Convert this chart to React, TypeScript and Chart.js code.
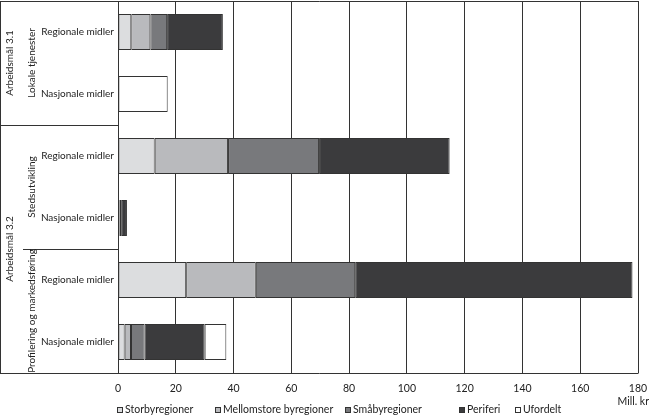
import React, { useEffect, useRef } from 'react';
import Chart from 'chart.js/auto';

// rows, top to bottom
const categories = ['Regionale midler', 'Nasjonale midler', 'Regionale midler', 'Nasjonale midler', 'Regionale midler', 'Nasjonale midler'];

const storby = [4.6, null, 12.7, 0.2, 23.6, 2.3];
const mellomstore = [6.6, null, 25.4, 0.3, 24.1, 2.2];
const smaaby = [5.8, null, 31.5, 0.6, 34.4, 4.7];
const periferi = [19.3, null, 45.2, 2.0, 96.0, 20.8];
const ufordelt = [null, 17.2, null, null, null, 7.5];

const seriesNames = ['Storbyregioner', 'Mellomstore byregioner', 'Småbyregioner', 'Periferi', 'Ufordelt'];
const seriesColors = ['#dcdddf', '#b9babd', '#78797c', '#3b3b3d', '#ffffff'];

const xTicks = [0, 20, 40, 60, 80, 100, 120, 140, 160, 180];

const LINE = '#333333';
const FONT = 'Lato, "Open Sans", sans-serif';

const decorPlugin = {
    id: 'decor',
    afterDraw(chart: any) {
        const { ctx, chartArea } = chart;
        const y = chart.scales.y;
        const px = (v: number) => Math.round(y.getPixelForValue(v)) + 0.5;
        const top = Math.round(chartArea.top) + 0.5;
        const bottom = Math.round(chartArea.bottom) + 0.5;
        const left = Math.round(chartArea.left) + 0.5;
        const right = Math.round(chartArea.right) + 0.5;

        ctx.save();
        ctx.strokeStyle = LINE;
        ctx.lineWidth = 1;
        ctx.beginPath();
        ctx.moveTo(0, top); ctx.lineTo(right, top);
        ctx.moveTo(0, bottom); ctx.lineTo(right, bottom);
        ctx.moveTo(0.5, top); ctx.lineTo(0.5, bottom);
        ctx.moveTo(left, top); ctx.lineTo(left, bottom);
        ctx.moveTo(0, px(1.5)); ctx.lineTo(left, px(1.5));
        ctx.moveTo(23, px(3.5)); ctx.lineTo(left, px(3.5));
        ctx.stroke();

        // group labels, rotated
        ctx.fillStyle = '#222';
        ctx.font = `10px ${FONT}`;
        ctx.textAlign = 'center';
        ctx.textBaseline = 'middle';
        const vLabel = (text: string, x: number, v: number) => {
            ctx.save();
            ctx.translate(x, y.getPixelForValue(v));
            ctx.rotate(-Math.PI / 2);
            ctx.fillText(text, 0, 0);
            ctx.restore();
        };
        vLabel('Arbeidsmål 3.1', 10, 0.5);
        vLabel('Arbeidsmål 3.2', 10, 3.5);
        vLabel('Lokale tjenester', 32, 0.5);
        vLabel('Stedsutvikling', 32, 2.5);
        vLabel('Profilering og markedsføring', 32, 4.5);

        // legend
        const legendX = [117, 215, 345, 459, 515];
        const ly = 410;
        ctx.textAlign = 'left';
        ctx.font = `10.5px ${FONT}`;
        seriesNames.forEach((name, i) => {
            ctx.fillStyle = seriesColors[i];
            ctx.fillRect(legendX[i] + 0.5, ly - 2.5, 5, 5);
            ctx.strokeStyle = LINE;
            ctx.strokeRect(legendX[i] + 0.5, ly - 2.5, 5, 5);
            ctx.fillStyle = '#222';
            ctx.fillText(name, legendX[i] + 8, ly);
        });

        ctx.textAlign = 'right';
        ctx.fillText('Mill. kr', 649, 402);
        ctx.restore();
    },
};

const App: React.FC = () => {
    const chartRef = useRef<HTMLCanvasElement>(null);
    const chartInstance = useRef<Chart | null>(null);

    useEffect(() => {
        if (!chartRef.current) return;
        const ctx = chartRef.current.getContext('2d');
        if (!ctx) return;

        const datasets = [storby, mellomstore, smaaby, periferi, ufordelt].map((data, i) => ({
            label: seriesNames[i],
            data,
            backgroundColor: seriesColors[i],
            borderColor: LINE,
            borderWidth: 1,
            borderSkipped: false,
            categoryPercentage: 1,
            barPercentage: 0.58,
        }));

        chartInstance.current = new Chart(ctx, {
            type: 'bar',
            data: { labels: categories, datasets: datasets as any },
            options: {
                indexAxis: 'y',
                animation: false,
                responsive: true,
                maintainAspectRatio: false,
                layout: { padding: { top: 1, right: 12, left: 0, bottom: 0 } },
                plugins: { legend: { display: false }, tooltip: { enabled: false } },
                scales: {
                    x: {
                        stacked: true,
                        min: 0,
                        max: 180,
                        afterBuildTicks: (scale: any) => { scale.ticks = xTicks.map(v => ({ value: v })); },
                        afterFit: (scale: any) => {
                            scale.height = 42;
                            scale.paddingLeft = 0;
                            scale.paddingRight = 0;
                        },
                        grid: { color: LINE, drawTicks: false },
                        border: { display: false },
                        ticks: { color: '#222', font: { family: FONT, size: 10.5 }, padding: 9 },
                    },
                    y: {
                        stacked: true,
                        afterFit: (scale: any) => {
                            scale.width = 118;
                            scale.paddingTop = 0;
                            scale.paddingBottom = 0;
                        },
                        grid: { display: false, drawTicks: false },
                        border: { display: false },
                        ticks: { color: '#222', font: { family: FONT, size: 10 }, padding: 4 },
                    },
                },
            },
            plugins: [decorPlugin],
        });

        return () => {
            if (chartInstance.current) {
                chartInstance.current.destroy();
                chartInstance.current = null;
            }
        };
    }, []);

    return (
        <div style={{ position: 'fixed', left: 0, top: 0, width: 650, height: 415, background: '#fff' }}>
            <canvas ref={chartRef}></canvas>
        </div>
    );
};

export default App;
